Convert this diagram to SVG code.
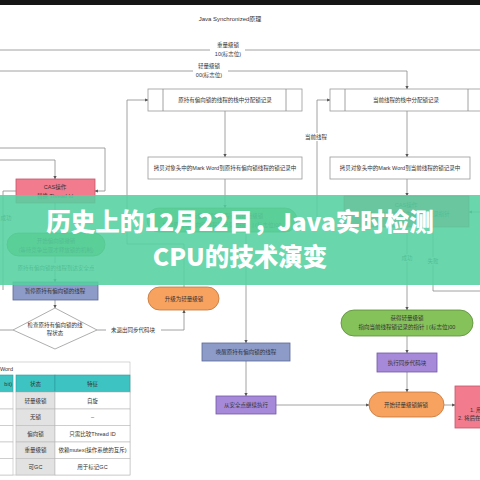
<svg xmlns="http://www.w3.org/2000/svg" width="480" height="480" viewBox="0 0 480 480">
<defs>
<marker id="ah" viewBox="0 0 6 6" refX="5.5" refY="3" markerWidth="4" markerHeight="4" orient="auto">
<path d="M0,0 L6,3 L0,6 z" fill="#555"/>
</marker>
<style>
.t{font-family:"Liberation Sans","Noto Sans CJK SC",sans-serif;font-size:5.5px;fill:#333;text-anchor:middle}
.ln{fill:none;stroke:#8a8a8a;stroke-width:0.8}
.ar{fill:none;stroke:#8a8a8a;stroke-width:0.8;marker-end:url(#ah)}
.box{fill:#fff;stroke:#999;stroke-width:0.8}
.pink{fill:#f27b8e;stroke:#c4566a;stroke-width:0.8}
.green{fill:#86c25a;stroke:#5a8a38;stroke-width:0.8}
.orange{fill:#f7a35f;stroke:#c27338;stroke-width:0.8}
.blue{fill:#8d9bc9;stroke:#5a6894;stroke-width:0.8}
.purple{fill:#a689d8;stroke:#7458a8;stroke-width:0.8}
.lbl{fill:#fff}
.cell{fill:#fff;stroke:#bbb;stroke-width:0.6}
.gcell{fill:#e2e2e2;stroke:#bbb;stroke-width:0.6}
.hcell{fill:#3ec3c3;stroke:#2a9a9a;stroke-width:0.6}
.ban{font-family:"Noto Sans CJK SC","Liberation Sans",sans-serif;font-weight:900;font-size:24.5px;fill:#fff;text-anchor:middle}
</style>
</defs>
<rect x="0" y="0" width="480" height="480" fill="#fff"/>
<rect x="0" y="0" width="480" height="5" fill="#151515"/>
<text class="t" x="230" y="21" style="font-size:6px">Java Synchronized原理</text>

<g id="connectors">
<path class="ln" d="M0,50 H210 M245,50 H480"/>
<path class="ln" d="M0,71 H193 M228,71 H407"/>
<path class="ar" d="M407,71 V89"/>
<path class="ar" d="M225,111 V157"/>
<path class="ar" d="M407,111 V157"/>
<path class="ar" d="M225,179 V208"/>
<path class="ar" d="M407,179 V196"/>
<path class="ar" d="M184,287 V244 H127 V100 H148"/>
<path class="ar" d="M297,220 H317 V100 H330"/>
<path class="ar" d="M0,148 H105 V191 H95"/>
<path class="ar" d="M0,160 H55 V179"/>
<path class="ln" d="M16,191 H3 V290"/>
<path class="ar" d="M55,203 V233"/>
<path class="ar" d="M55,256 V282"/>
<path class="ar" d="M55,300 V308"/>
<path class="ln" d="M13,330 H0"/>
<path class="ar" d="M97,330 H184 V310"/>
<path class="ar" d="M480,212 H469"/>
<path class="ar" d="M407,227 V310"/>
<path class="ln" d="M433,227 V291 H480"/>
<path class="ar" d="M407,336 V353"/>
<path class="ar" d="M407,372 V392"/>
<path class="ar" d="M444,405 H455"/>
<path class="ar" d="M246,232 V343"/>
<path class="ar" d="M246,361 V396"/>
<path class="ar" d="M276,405 H369"/>
</g>

<g id="heavy-label">
<rect class="lbl" x="212" y="40" width="33" height="17"/>
<text class="t" x="228" y="47">重量级锁</text>
<text class="t" x="228" y="56">10(标志位)</text>
</g>
<g id="light-label">
<rect class="lbl" x="194" y="61" width="33" height="17"/>
<text class="t" x="209" y="68">轻量级锁</text>
<text class="t" x="209" y="77">00(标志位)</text>
</g>

<g id="box1">
<rect class="box" x="148" y="89" width="154" height="22"/>
<path class="ln" d="M163,89 V111 M286,89 V111"/>
<text class="t" x="225" y="102">原持有偏向锁的线程的栈中分配锁记录</text>
</g>
<g id="box2">
<rect class="box" x="330" y="89" width="154" height="22"/>
<path class="ln" d="M345,89 V111 M468,89 V111"/>
<text class="t" x="406" y="102">当前线程的栈中分配锁记录</text>
</g>
<g id="label-current">
<rect class="lbl" x="302" y="133" width="29" height="8"/>
<text class="t" x="316" y="139">当前线程</text>
</g>
<g id="box3">
<rect class="box" x="148" y="157" width="154" height="22"/>
<text class="t" x="225" y="170">拷贝对象头中的Mark Word到原持有偏向锁线程的锁记录中</text>
</g>
<g id="box4">
<rect class="box" x="330" y="157" width="140" height="22"/>
<text class="t" x="400" y="170">拷贝对象头中的Mark Word到当前线程的锁记录中</text>
</g>

<g id="cas1">
<rect class="pink" x="16" y="179" width="79" height="24"/>
<text class="t" x="55" y="189">CAS操作</text>
<text class="t" x="55" y="198">替换 Thread Id</text>
</g>
<g id="cas2">
<rect class="pink" x="344" y="196" width="125" height="31"/>
<text class="t" x="406" y="207">CAS操作</text>
<text class="t" x="406" y="216">将Mark Word替换为指向锁记录指针</text>
</g>
<g id="ellipse-mid">
<rect class="green" x="147" y="208" width="150" height="24" rx="12"/>
<text class="t" x="222" y="218">原持有偏向锁的线程获得轻量级锁</text>
<text class="t" x="222" y="227">指向原持有偏向锁线程锁记录的指针 | (标志位)00</text>
</g>
<g id="revoke">
<rect class="green" x="7" y="233" width="98" height="23" rx="11.5"/>
<text class="t" x="56" y="243">开始偏向锁撤销</text>
<text class="t" x="56" y="252">(等待竞争出现才释放锁的机制)</text>
</g>
<g id="label-ok1"><text class="t" x="6" y="220">成功</text></g>
<g id="label-safe">
<rect class="lbl" x="12" y="263" width="88" height="8"/>
<text class="t" x="56" y="269.5">原持有偏向锁的线程到达安全点</text>
</g>
<g id="pause">
<rect class="blue" x="13" y="282" width="85" height="18"/>
<text class="t" x="55" y="293">暂停原持有偏向锁的线程</text>
</g>
<g id="check">
<path d="M55,308 L97,330 L55,349 L13,330 z" fill="#fff" stroke="#999" stroke-width="0.8"/>
<text class="t" x="55" y="327">检查原持有偏向锁的线</text>
<text class="t" x="55" y="335">程状态</text>
</g>
<g id="label-notexit">
<rect class="lbl" x="106" y="326" width="55" height="8"/>
<text class="t" x="133" y="332">未退出同步代码块</text>
</g>
<g id="upgrade">
<rect class="orange" x="148" y="287" width="71" height="23" rx="11.5"/>
<text class="t" x="184" y="300.5">升级为轻量级锁</text>
</g>
<g id="label-ok2">
<rect class="lbl" x="399" y="254" width="17" height="8"/>
<text class="t" x="407" y="260">成功</text>
</g>
<g id="label-fail">
<rect class="lbl" x="425" y="257" width="17" height="8"/>
<text class="t" x="433" y="263">失败</text>
</g>
<g id="getlight">
<rect class="green" x="341" y="310" width="132" height="26" rx="13"/>
<text class="t" x="407" y="320">获得轻量级锁</text>
<text class="t" x="407" y="329">指向当前线程锁记录的指针 | (标志位)00</text>
</g>
<g id="exec">
<rect class="purple" x="377" y="353" width="60" height="19"/>
<text class="t" x="407" y="364.5">执行同步代码块</text>
</g>
<g id="unlock">
<rect class="orange" x="369" y="392" width="75" height="25" rx="12.5"/>
<text class="t" x="406" y="406.5">开始轻量级锁解锁</text>
</g>
<g id="pink-right">
<rect class="pink" x="455" y="386" width="35" height="42"/>
<text class="t" x="470" y="412" style="text-anchor:start">1. 用</text>
<text class="t" x="458" y="420" style="text-anchor:start">2. 将后在</text>
</g>
<g id="wake">
<rect class="blue" x="202" y="343" width="88" height="18"/>
<text class="t" x="246" y="354">唤醒原持有偏向锁的线程</text>
</g>
<g id="resume">
<rect class="purple" x="216" y="396" width="60" height="18"/>
<text class="t" x="246" y="407">从安全点继续执行</text>
</g>

<g id="table">
<rect class="cell" x="-1" y="362" width="131" height="113"/>
<text class="t" x="13" y="370.5" style="text-anchor:end">Mark Word</text>
<rect class="hcell" x="-1" y="375" width="14" height="17"/>
<rect class="hcell" x="16" y="375" width="39" height="17"/>
<rect class="hcell" x="55" y="375" width="75" height="17"/>
<text class="t" x="12" y="385.5" style="text-anchor:end">bit)</text>
<text class="t" x="35.5" y="385.5">状态</text>
<text class="t" x="92.5" y="385.5">特征</text>
<rect class="cell" x="-1" y="392" width="14" height="17"/>
<rect class="cell" x="-1" y="409" width="14" height="16.5"/>
<rect class="cell" x="-1" y="425.5" width="14" height="16.5"/>
<rect class="cell" x="-1" y="442" width="14" height="16.5"/>
<rect class="cell" x="-1" y="458.5" width="14" height="16.5"/>
<rect class="gcell" x="16" y="392" width="39" height="17"/>
<rect class="gcell" x="16" y="409" width="39" height="16.5"/>
<rect class="gcell" x="16" y="425.5" width="39" height="16.5"/>
<rect class="gcell" x="16" y="442" width="39" height="16.5"/>
<rect class="gcell" x="16" y="458.5" width="39" height="16.5"/>
<rect class="cell" x="55" y="392" width="75" height="17"/>
<rect class="cell" x="55" y="409" width="75" height="16.5"/>
<rect class="cell" x="55" y="425.5" width="75" height="16.5"/>
<rect class="cell" x="55" y="442" width="75" height="16.5"/>
<rect class="cell" x="55" y="458.5" width="75" height="16.5"/>
<text class="t" x="35.5" y="402.5">轻量级锁</text>
<text class="t" x="92.5" y="402.5">自旋</text>
<text class="t" x="35.5" y="419">无锁</text>
<text class="t" x="92.5" y="419">–</text>
<text class="t" x="35.5" y="435.5">偏向锁</text>
<text class="t" x="92.5" y="435.5">只需比较Thread ID</text>
<text class="t" x="35.5" y="452">重量级锁</text>
<text class="t" x="92.5" y="452">依赖mutex(操作系统的互斥)</text>
<text class="t" x="35.5" y="468.5">可GC</text>
<text class="t" x="92.5" y="468.5">用于标记GC</text>
</g>

<g id="banner">
<rect x="0" y="195" width="480" height="90" fill="#55d0a0" fill-opacity="0.88"/>
<text class="ban" x="240" y="231">历史上的12月22日，Java实时检测</text>
<text class="ban" x="240" y="266">CPU的技术演变</text>
</g>
</svg>
